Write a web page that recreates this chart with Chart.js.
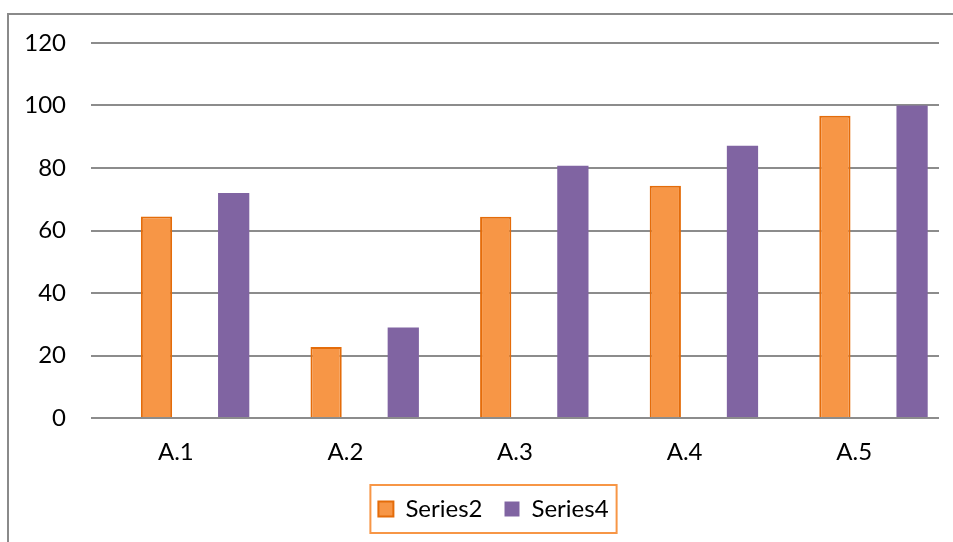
<!DOCTYPE html>
<html>
<head>
<meta charset="utf-8">
<script src="https://cdn.jsdelivr.net/npm/chart.js@4/dist/chart.umd.min.js"></script>
<style>
  html, body { margin: 0; padding: 0; background: #ffffff; }
  #wrap { position: relative; width: 953px; height: 542px; }
</style>
</head>
<body>
<div id="wrap"><canvas id="chart" width="953" height="542"></canvas></div>
<script>
// Categories and series values
const categories = ['A.1', 'A.2', 'A.3', 'A.4', 'A.5'];
const series1 = [null, null, null, null, null];   // empty series, keeps its slot
const series2 = [64.5, 22.7, 64.4, 74.3, 96.7];
const series3 = [null, null, null, null, null];   // empty series, keeps its slot
const series4 = [72.0, 29.0, 80.7, 87.1, 100];
const yTicks = [0, 20, 40, 60, 80, 100, 120];

const FONT = 'Lato, "Liberation Sans", sans-serif';
const LEGEND_SHIFT = 24;

// Outer frame of the chart panel (left and top edges)
const framePlugin = {
  id: 'frame',
  beforeDraw(chart) {
    const ctx = chart.ctx;
    ctx.save();
    ctx.strokeStyle = '#8a8a8a';
    ctx.lineWidth = 2;
    ctx.beginPath();
    ctx.moveTo(953, 14);
    ctx.lineTo(8, 14);
    ctx.lineTo(8, 542);
    ctx.stroke();
    ctx.restore();
  }
};

// Nudge the legend a little to the right, then draw an orange box around it
const legendBoxPlugin = {
  id: 'legendBox',
  afterLayout(chart) {
    const lg = chart.legend;
    if (!lg) return;
    lg.left += LEGEND_SHIFT;
    lg.right += LEGEND_SHIFT;
  },
  afterDraw(chart) {
    const boxes = chart.legend && chart.legend.legendHitBoxes;
    if (!boxes || !boxes.length) return;
    let l = Infinity, r = -Infinity, t = Infinity, b = -Infinity;
    boxes.forEach(h => {
      l = Math.min(l, h.left); r = Math.max(r, h.left + h.width);
      t = Math.min(t, h.top); b = Math.max(b, h.top + h.height);
    });
    const cy = (t + b) / 2;
    const ctx = chart.ctx;
    ctx.save();
    ctx.strokeStyle = '#f79646';
    ctx.lineWidth = 2;
    ctx.strokeRect(l - 8, cy - 24, (r - l) + 16, 48);
    ctx.restore();
  }
};

new Chart(document.getElementById('chart'), {
  type: 'bar',
  data: {
    labels: categories,
    datasets: [
      { label: 'Series1', data: series1, backgroundColor: '#4f81bd' },
      { label: 'Series2', data: series2, backgroundColor: '#f79646', borderColor: '#e46c0a', borderWidth: 2, borderSkipped: 'bottom' },
      { label: 'Series3', data: series3, backgroundColor: '#9bbb59' },
      { label: 'Series4', data: series4, backgroundColor: '#8064a2', borderWidth: 0 }
    ]
  },
  options: {
    responsive: false,
    animation: false,
    devicePixelRatio: 1,
    categoryPercentage: 0.91,
    barPercentage: 0.81,
    layout: { padding: { top: 43, right: 14, bottom: 11, left: 0 } },
    plugins: {
      legend: {
        position: 'bottom',
        labels: {
          filter: item => item.text === 'Series2' || item.text === 'Series4',
          boxWidth: 15,
          boxHeight: 15,
          padding: 22,
          color: '#000000',
          font: { family: FONT, size: 24 }
        }
      },
      tooltip: { enabled: false }
    },
    scales: {
      x: {
        grid: { display: false, drawTicks: false },
        border: { display: false },
        ticks: { color: '#000000', padding: 20, font: { family: FONT, size: 24 } },
        afterFit(scale) { scale.height = 57; }
      },
      y: {
        min: 0,
        max: 120,
        afterBuildTicks(scale) { scale.ticks = yTicks.map(v => ({ value: v })); },
        grid: { color: '#8c8c8c', lineWidth: 2, drawTicks: false },
        border: { display: false },
        ticks: { color: '#000000', padding: 25, font: { family: FONT, size: 24 } },
        afterFit(scale) { scale.width = 91; }
      }
    }
  },
  plugins: [framePlugin, legendBoxPlugin]
});
</script>
</body>
</html>
